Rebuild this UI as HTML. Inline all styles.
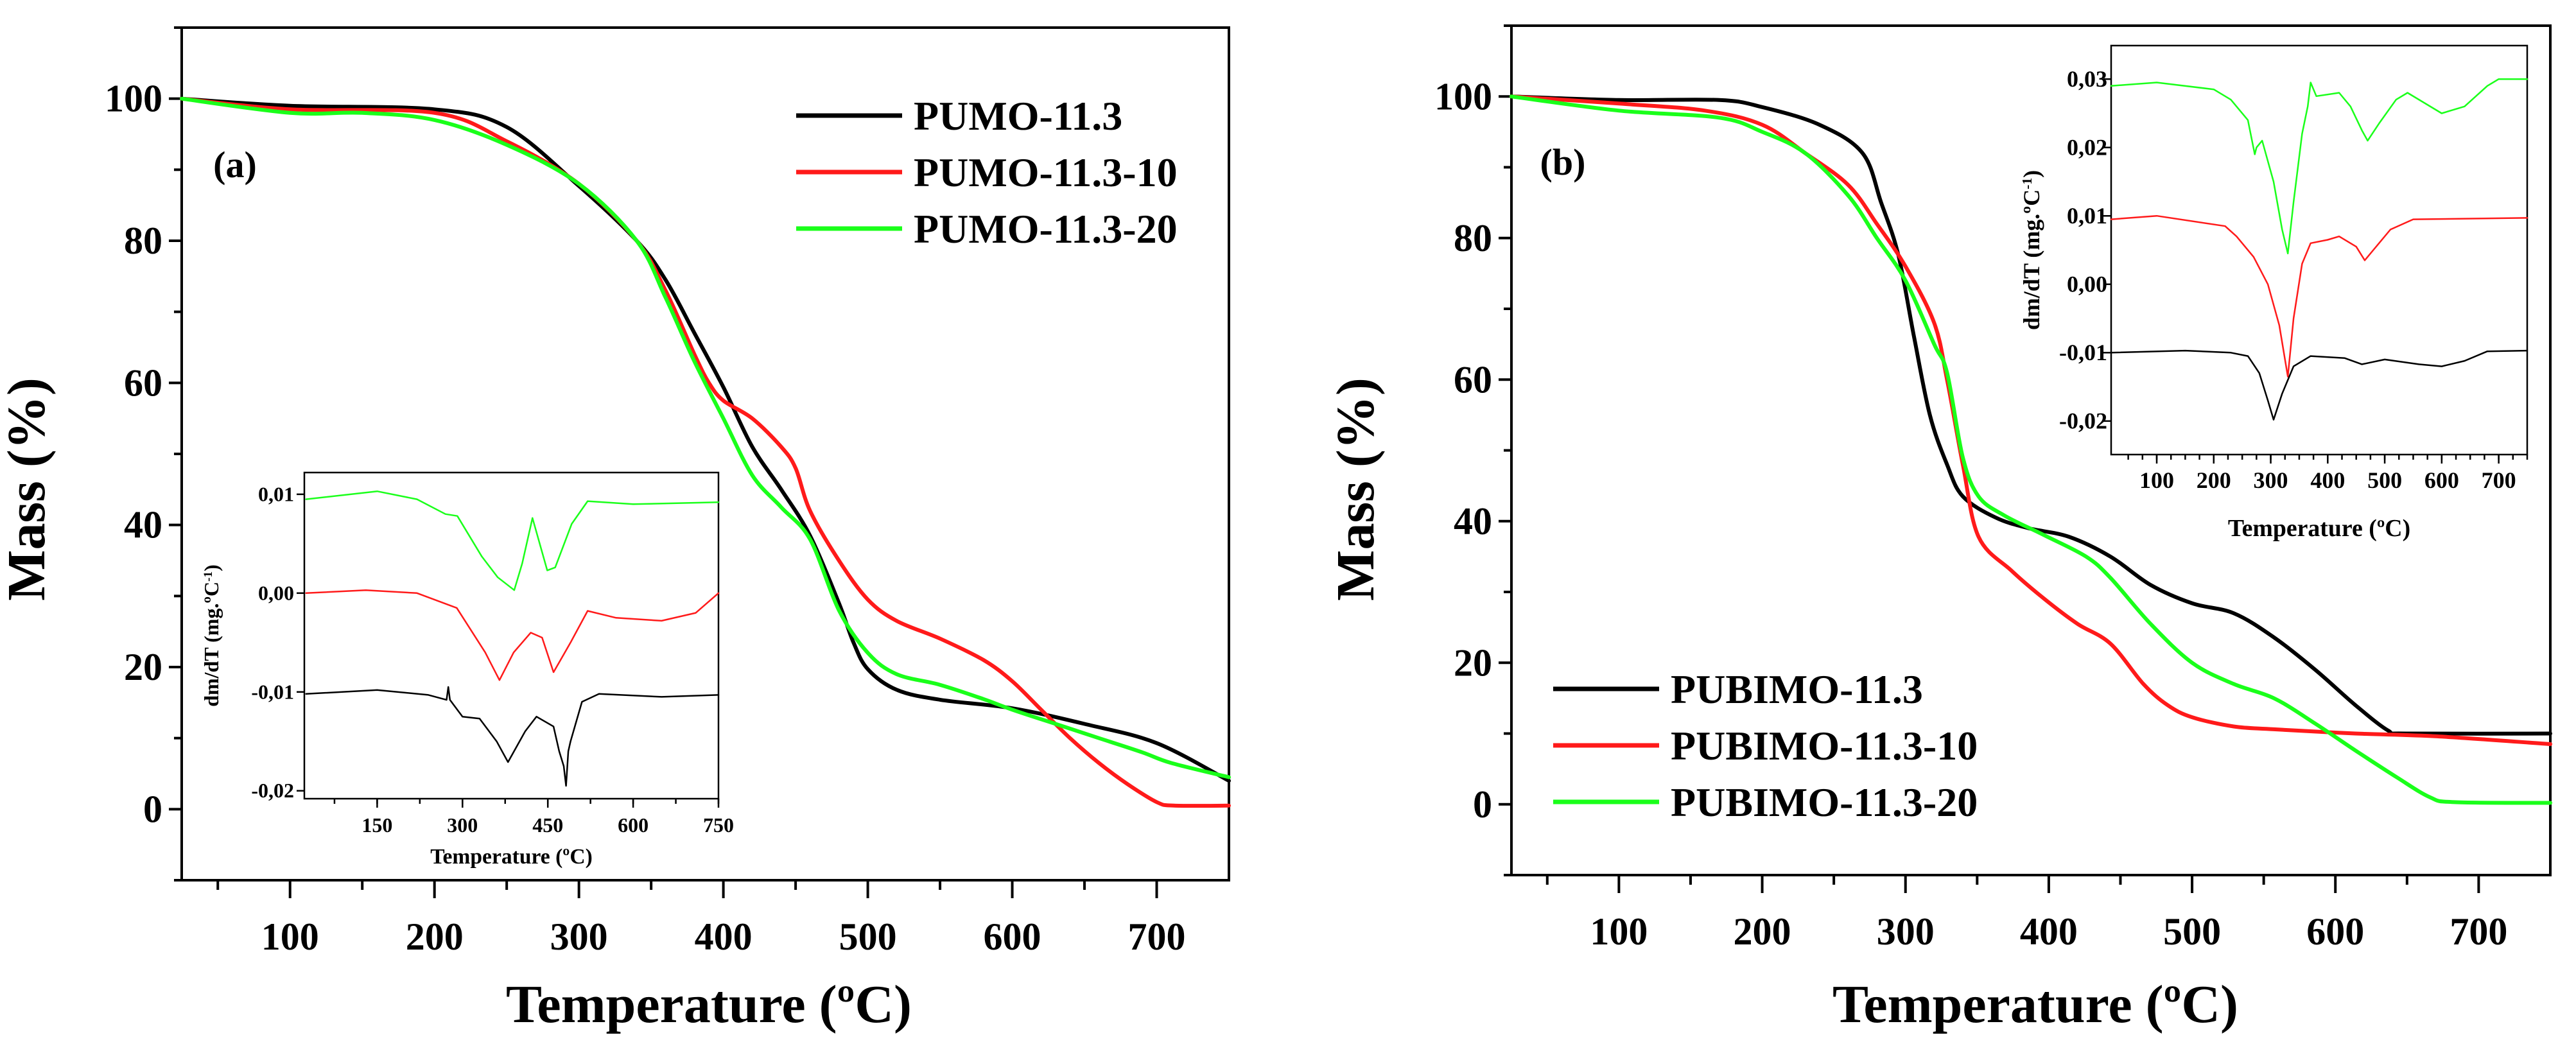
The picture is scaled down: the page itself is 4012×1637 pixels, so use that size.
<!DOCTYPE html>
<html><head><meta charset="utf-8"><style>
html,body{margin:0;padding:0;background:#fff;}
svg{display:block;font-family:"Liberation Serif",serif;}
</style></head><body>
<svg id="fig" width="4012" height="1637" viewBox="0 0 4012 1637" xmlns="http://www.w3.org/2000/svg"></svg>
<script>
// ---- Panel (a) data ----
const aBlackT=[25,100,200,250,300,340,360,380,400,420,440,460,480,490,500,520,550,600,650,700,750];
const aBlackM=[100,99,98.5,96,87.7,80,74.5,67,59.4,51,45,38.5,29,23.5,19.7,16.8,15.4,14.2,12,9.3,4];
const aRedT=[25,100,200,250,300,340,360,380,390,400,420,440,450,460,480,500,520,550,580,600,620,640,660,680,700,712,750];
const aRedM=[100,98.5,98,94,88,80,73,64,60,57.5,55,51,48,42,35,29.5,26.5,24,21,18,14,10,6.5,3.5,1,0.5,0.5];
const aGreenT=[25,100,150,200,250,300,340,360,380,400,420,440,460,480,500,520,550,580,600,630,660,690,710,750];
const aGreenM=[100,98,98,97,93.5,88,80,72,63,55,47,42.5,38,28,22,19,17.5,15.5,14,12,10,8,6.5,4.5];
// ---- Panel (a) inset DTG ----
const aiGreenT=[25,150,220,270,291,334,362,391,405,423,449,463,492,520,600,750];
const aiGreenV=[0.0095,0.0103,0.0095,0.008,0.0078,0.0037,0.0016,0.0003,0.003,0.0076,0.0023,0.0026,0.007,0.0093,0.009,0.0092];
const aiRedT=[25,130,220,290,340,365,390,420,440,460,490,520,570,650,710,750];
const aiRedV=[0,0.0003,0,-0.0015,-0.006,-0.0088,-0.006,-0.004,-0.0045,-0.008,-0.005,-0.0018,-0.0025,-0.0028,-0.002,0];
const aiBlackT=[25,150,240,272,275,278,300,330,360,380,410,430,460,470,478,482,486,490,510,540,650,750];
const aiBlackV=[-0.0102,-0.0098,-0.0103,-0.0108,-0.0095,-0.0108,-0.0125,-0.0127,-0.015,-0.0171,-0.014,-0.0125,-0.0135,-0.016,-0.0175,-0.0195,-0.016,-0.015,-0.011,-0.0102,-0.0105,-0.0103];
// ---- Panel (b) data ----
const bBlackT=[25,100,170,200,240,270,283,295,306,317,329,340,363,386,414,443,471,500,529,557,586,614,637,649,750];
const bBlackM=[100,99.5,99.5,98.5,96,92,85,77.6,66,55,48,43.5,40.5,39,37.8,35,31,28.4,27,23.6,19,14,10.4,10,10];
const bRedT=[25,100,160,200,230,260,280,300,320,329,340,351,374,397,420,443,466,483,500,529,557,614,671,750];
const bRedM=[100,99,98,96,92,87.5,82,76,68,60,48,37.8,33,29,25.5,22.7,17,14,12.3,11,10.6,10,9.6,8.5];
const bGreenT=[25,100,170,200,230,260,280,300,320,329,340,351,369,397,426,443,471,500,529,557,586,614,643,666,683,750];
const bGreenM=[100,98,97,95,92,86,80,74,65,61,49,43.5,40.8,38,35,32,25.5,20,17,15,11.4,7.6,3.8,1,0.3,0.2];
// ---- Panel (b) inset DTG ----
const biGreenT=[20,100,200,230,260,272,275,285,305,320,330,340,355,365,370,380,420,440,460,470,490,520,540,570,600,640,680,700,750];
const biGreenV=[0.029,0.0295,0.0285,0.027,0.024,0.019,0.02,0.021,0.015,0.008,0.0045,0.012,0.022,0.026,0.0295,0.0275,0.028,0.026,0.0225,0.021,0.0235,0.027,0.028,0.0265,0.025,0.026,0.029,0.030,0.030];
const biRedT=[20,100,220,240,270,295,315,330,340,355,370,400,420,450,465,480,510,550,750];
const biRedV=[0.0095,0.010,0.0085,0.007,0.004,0.0,-0.006,-0.0135,-0.005,0.003,0.006,0.0065,0.007,0.0055,0.0035,0.005,0.008,0.0095,0.0097];
const biBlackT=[20,150,230,260,280,295,305,320,340,370,430,460,500,560,600,640,680,750];
const biBlackV=[-0.010,-0.0097,-0.010,-0.0105,-0.013,-0.017,-0.0198,-0.016,-0.012,-0.0105,-0.0108,-0.0117,-0.011,-0.0117,-0.012,-0.0112,-0.0098,-0.0097];
const mainXTicks=[100,200,300,400,500,600,700];
const mainYTicks=[0,20,40,60,80,100];
const aiXTicks=[150,300,450,600,750];
const aiYTicks=[0.01,0,-0.01,-0.02];
const aiYLabels=["0,01","0,00","-0,01","-0,02"];
const biXTicks=[100,200,300,400,500,600,700];
const biYTicks=[0.03,0.02,0.01,0,-0.01,-0.02];
const biYLabels=["0,03","0,02","0,01","0,00","-0,01","-0,02"];
const legA=["PUMO-11.3","PUMO-11.3-10","PUMO-11.3-20"];
const legB=["PUBIMO-11.3","PUBIMO-11.3-10","PUBIMO-11.3-20"];
const BLACK="#000000", RED="#ff1a1a", GREEN="#1aff1a";
const COLORS=[BLACK,RED,GREEN];
const INSET_COLORS=[GREEN,RED,BLACK];

const NS="http://www.w3.org/2000/svg";
const svg=document.getElementById('fig');
function mk(tag,attrs,parent){const e=document.createElementNS(NS,tag);for(const k in attrs)e.setAttribute(k,attrs[k]);(parent||svg).appendChild(e);return e;}
function scale(d0,d1,r0,r1){return v=>r0+(v-d0)/(d1-d0)*(r1-r0);}

function axesBox(g,L,R,T,B,sw){
  const p=mk('rect',{x:L,y:T,width:R-L,height:B-T,fill:'none',stroke:'#000','stroke-width':sw},g);
  
  
}
function line(g,xs,ys,X,Y,color,w,name,smooth){
  const P=xs.map((v,i)=>[X(v),Y(ys[i])]);
  let d='M'+P[0][0].toFixed(1)+','+P[0][1].toFixed(1);
  for(let i=0;i<P.length-1;i++){
    if(!smooth){d+='L'+P[i+1][0].toFixed(1)+','+P[i+1][1].toFixed(1);continue;}
    const p0=P[Math.max(0,i-1)],p1=P[i],p2=P[i+1],p3=P[Math.min(P.length-1,i+2)];
    const c1=[p1[0]+(p2[0]-p0[0])/6,p1[1]+(p2[1]-p0[1])/6];
    const c2=[p2[0]-(p3[0]-p1[0])/6,p2[1]-(p3[1]-p1[1])/6];
    d+='C'+c1[0].toFixed(1)+','+c1[1].toFixed(1)+' '+c2[0].toFixed(1)+','+c2[1].toFixed(1)+' '+p2[0].toFixed(1)+','+p2[1].toFixed(1);
  }
  const p=mk('path',{d:d,fill:'none',stroke:color,'stroke-width':w,'stroke-linejoin':'round','stroke-linecap':'round'},g);
  
  
}
function text(g,x,y,s,size,anchor,name,extra){
  const t=mk('text',Object.assign({x:x,y:y,'font-size':size,'font-weight':'bold','text-anchor':anchor||'middle'},extra||{}),g);
  t.textContent=s;
  
  
  return t;
}

function mainPanel(id,L,R,T,B,series,leg,legX,legY,label,labX,labY,titleX,massX){
  const g=mk('g',{});
  
  
  const X=scale(25,750,L,R), Y=scale(-10,110,B,T);
  axesBox(g,L,R,T,B,4);
  for(let v=50;v<=700;v+=50){const x=X(v);const major=v%100===0;
    const t=mk('line',{x1:x,x2:x,y1:B,y2:B+(major?28:15),stroke:'#000','stroke-width':4},g);
    
    }
  mainXTicks.forEach(v=>text(g,X(v),B+108,String(v),60,'middle','x-tick-label'));
  for(let v=-10;v<=110;v+=10){const y=Y(v);const major=v%20===0&&v>=0&&v<=100;
    const t=mk('line',{x1:L,x2:L-(major?20:12),y1:y,y2:y,stroke:'#000','stroke-width':4},g);
    
    }
  mainYTicks.forEach(v=>text(g,L-30,Y(v)+20,String(v),60,'end','y-tick-label'));
  series.forEach((s,i)=>line(g,s[0],s[1],X,Y,COLORS[i],6,'series-'+leg[i].toLowerCase().replace(/\./g,'-'),true));
  leg.forEach((s,i)=>{
    const y=legY+i*88;
    const l=mk('line',{x1:legX,x2:legX+165,y1:y,y2:y,stroke:COLORS[i],'stroke-width':7},g);
    
    
    text(g,legX+183,y+22,s,64,'start','legend-entry');
  });
  text(g,labX,labY,label,58,'middle','panel-label');
  text(g,titleX,1592,'Temperature (ºC)',84,'middle','x-axis-title');
  text(g,massX,762,'Mass (%)',84,'middle','y-axis-title',{transform:'rotate(-90 '+massX+' 762)'});
  return g;
}

function inset(id,L,R,T,B,x0,x1,y0,y1,series,xt,yt,ylab,fs,minorX,ylabX,titleY,dmX){
  const g=mk('g',{});
  
  
  const bg=mk('rect',{x:L,y:T,width:R-L,height:B-T,fill:'#fff'},g);
  
  
  const X=scale(x0,x1,L,R), Y=scale(y0,y1,B,T);
  axesBox(g,L,R,T,B,2.5);
  for(let v=minorX;v<=x1;v+=minorX/ (minorX===75?1:2)){const x=X(v);if(x<L||x>R)continue;
    const t=mk('line',{x1:x,x2:x,y1:B,y2:B+8,stroke:'#000','stroke-width':2.5},g);
    
    }
  xt.forEach(v=>{const x=X(v);
    const t=mk('line',{x1:x,x2:x,y1:B,y2:B+14,stroke:'#000','stroke-width':2.5},g);
    
    
    text(g,x,B+52,String(v),fs,'middle','inset-x-tick-label');});
  yt.forEach((v,i)=>{const y=Y(v);
    const t=mk('line',{x1:L,x2:L-12,y1:y,y2:y,stroke:'#000','stroke-width':2.5},g);
    
    
    text(g,ylabX,y+fs*0.33,ylab[i],fs,'end','inset-y-tick-label');});
  series.forEach((s,i)=>line(g,s[0],s[1],X,Y,INSET_COLORS[i],2.5,'dtg-series-'+i,false));
  text(g,(L+R)/2,titleY,'Temperature (ºC)',fs*1.05,'middle','inset-x-axis-title');
  const my=(T+B)/2;
  const t=text(g,dmX,my,'',fs*1.0,'middle','inset-y-axis-title',{transform:'rotate(-90 '+dmX+' '+my+')'});
  t.textContent='dm/dT (mg.ºC';
  const sup=mk('tspan',{'baseline-shift':'super','font-size':fs*0.6},t);sup.textContent='-1';
  const cl=mk('tspan',{},t);cl.textContent=')';
}

mainPanel('a',283,1914,43,1371,[[aBlackT,aBlackM],[aRedT,aRedM],[aGreenT,aGreenM]],legA,1240,180,'(a)',366,276,1104,69);
inset('a',474,1119,736,1244,22,750,-0.0208,0.0122,[[aiGreenT,aiGreenV],[aiRedT,aiRedV],[aiBlackT,aiBlackV]],aiXTicks,aiYTicks,aiYLabels,32,75,458,1345,340);
mainPanel('b',2354,3972,40,1363,[[bBlackT,bBlackM],[bRedT,bRedM],[bGreenT,bGreenM]],legB,2419,1073,'(b)',2434,272,3170,2139);
inset('b',3288,3936,71,708,20,750,-0.0249,0.0349,[[biGreenT,biGreenV],[biRedT,biRedV],[biBlackT,biBlackV]],biXTicks,biYTicks,biYLabels,36,50,3282,835,3176);
</script>
</body></html>
